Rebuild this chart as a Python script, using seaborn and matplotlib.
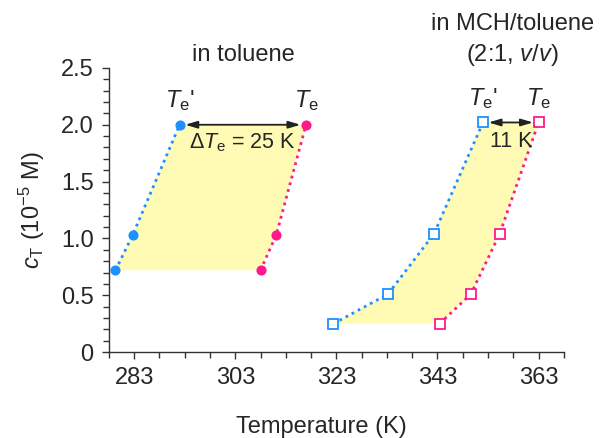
import numpy as np
import pandas as pd
import matplotlib
matplotlib.use("Agg")
import matplotlib.pyplot as plt
import seaborn as sns

# Elongation temperatures vs. total concentration
tol_conc = [0.72, 1.03, 2.00]          # 10^-5 M, in toluene
tol_Te_prime = [279.3, 282.7, 292.0]   # K (Te')
tol_Te = [308.0, 311.1, 317.0]         # K (Te)

mch_conc = [0.25, 0.51, 1.04, 2.02]    # 10^-5 M, in MCH/toluene (2:1)
mch_Te_prime = [322.4, 333.2, 342.3, 352.0]
mch_Te = [343.4, 349.6, 355.3, 363.0]

delta_labels = ["25 K", "11 K"]
x_ticks = [283, 303, 323, 343, 363]
y_ticks = [0, 0.5, 1.0, 1.5, 2.0, 2.5]
y_tick_labels = ["0", "0.5", "1.0", "1.5", "2.0", "2.5"]

BLUE = "#1E90FF"
PINK = "#FF1A8C"
FILL = "#FFFBB5"

sns.set_theme(style="ticks")
plt.rcParams["font.family"] = ["Liberation Sans", "DejaVu Sans"]
plt.rcParams["mathtext.fontset"] = "custom"
plt.rcParams["mathtext.rm"] = "Liberation Sans"
plt.rcParams["mathtext.it"] = "Liberation Sans:italic"
plt.rcParams["mathtext.bf"] = "Liberation Sans:bold"

FS = 17

rows = []
for solvent, conc, tp, te in [("toluene", tol_conc, tol_Te_prime, tol_Te),
                              ("MCH", mch_conc, mch_Te_prime, mch_Te)]:
    for c, a, b in zip(conc, tp, te):
        rows.append(dict(solvent=solvent, branch="Te_prime", T=a, c=c))
        rows.append(dict(solvent=solvent, branch="Te", T=b, c=c))
df = pd.DataFrame(rows)

fig = plt.figure(figsize=(6.05, 4.38), dpi=100)
ax = fig.add_axes([0.180, 0.196, 0.752, 0.649])

# shaded hysteresis regions between the two branches
for conc, tp, te in [(tol_conc, tol_Te_prime, tol_Te), (mch_conc, mch_Te_prime, mch_Te)]:
    xs = np.concatenate([np.asarray(tp), np.asarray(te)[::-1]])
    ys = np.concatenate([np.asarray(conc), np.asarray(conc)[::-1]])
    ax.fill(xs, ys, color=FILL, lw=0, zorder=1)

# dotted branches with markers
styles = {
    ("toluene", "Te_prime"): (BLUE, "o", BLUE),
    ("toluene", "Te"): (PINK, "o", PINK),
    ("MCH", "Te_prime"): (BLUE, "s", "white"),
    ("MCH", "Te"): (PINK, "s", "white"),
}
for (solvent, branch), (col, mk, face) in styles.items():
    sub = df[(df.solvent == solvent) & (df.branch == branch)]
    sns.lineplot(data=sub, x="T", y="c", sort=False, estimator=None, ax=ax,
                 color=col, linestyle=(0, (1, 1.5)), linewidth=2.0, zorder=3)
    ax.plot(sub["T"], sub["c"], linestyle="none", marker=mk,
            markersize=6 if mk == "o" else 6.5, markerfacecolor=face,
            markeredgecolor=col, markeredgewidth=1.3, zorder=4)

# arrows showing the hysteresis width at the top concentration
for tp, te, c in [(tol_Te_prime[-1], tol_Te[-1], tol_conc[-1]),
                  (mch_Te_prime[-1], mch_Te[-1], mch_conc[-1])]:
    ax.annotate("", xy=(te, c), xytext=(tp, c),
                arrowprops=dict(arrowstyle="<|-|>,head_length=0.6,head_width=0.18",
                                color="#222222", lw=1.3, shrinkA=4, shrinkB=4),
                zorder=5)
    ax.text(tp, c + 0.1, r"$T_\mathrm{e}$'", fontsize=FS, ha="center", va="bottom")
    ax.text(te, c + 0.1, r"$T_\mathrm{e}$", fontsize=FS, ha="center", va="bottom")

ax.text((tol_Te_prime[-1] + tol_Te[-1]) / 2, tol_conc[-1] - 0.16,
        r"$\Delta T_\mathrm{e}$ = " + delta_labels[0], fontsize=FS - 1.5,
        ha="center", va="center", zorder=6)
ax.text((mch_Te_prime[-1] + mch_Te[-1]) / 2, mch_conc[-1] - 0.17,
        delta_labels[1], fontsize=FS - 1.5, ha="center", va="center", zorder=6)

ax.text(304.7, 2.61, "in toluene", fontsize=FS, ha="center", va="center")
ax.text(357.8, 2.89, "in MCH/toluene", fontsize=FS, ha="center", va="center",
        clip_on=False)
ax.text(357.8, 2.61, r"(2:1, $v$/$v$)", fontsize=FS, ha="center", va="center",
        clip_on=False)

ax.set_xlim(278, 368)
ax.set_ylim(0, 2.5)
ax.set_xticks(x_ticks)
ax.set_xticks(np.arange(278, 369, 5), minor=True)
ax.set_yticks(y_ticks)
ax.set_yticklabels(y_tick_labels)
ax.set_yticks(np.arange(0, 2.51, 0.1), minor=True)
ax.tick_params(axis="both", which="both", direction="out", labelsize=FS,
               color="#333333", width=1.0)
ax.tick_params(axis="both", which="major", length=5, pad=6)
ax.tick_params(axis="both", which="minor", length=4)
for s in ("top", "right"):
    ax.spines[s].set_visible(False)
for s in ("left", "bottom"):
    ax.spines[s].set_color("#333333")
    ax.spines[s].set_linewidth(1.0)

ax.set_xlabel("Temperature (K)", fontsize=FS)
ax.xaxis.set_label_coords(0.468, -0.225)
ax.set_ylabel(r"$c_\mathrm{T}$ (10$^{-5}$ M)", fontsize=FS, labelpad=10)

fig.savefig("out.png", dpi=100)
